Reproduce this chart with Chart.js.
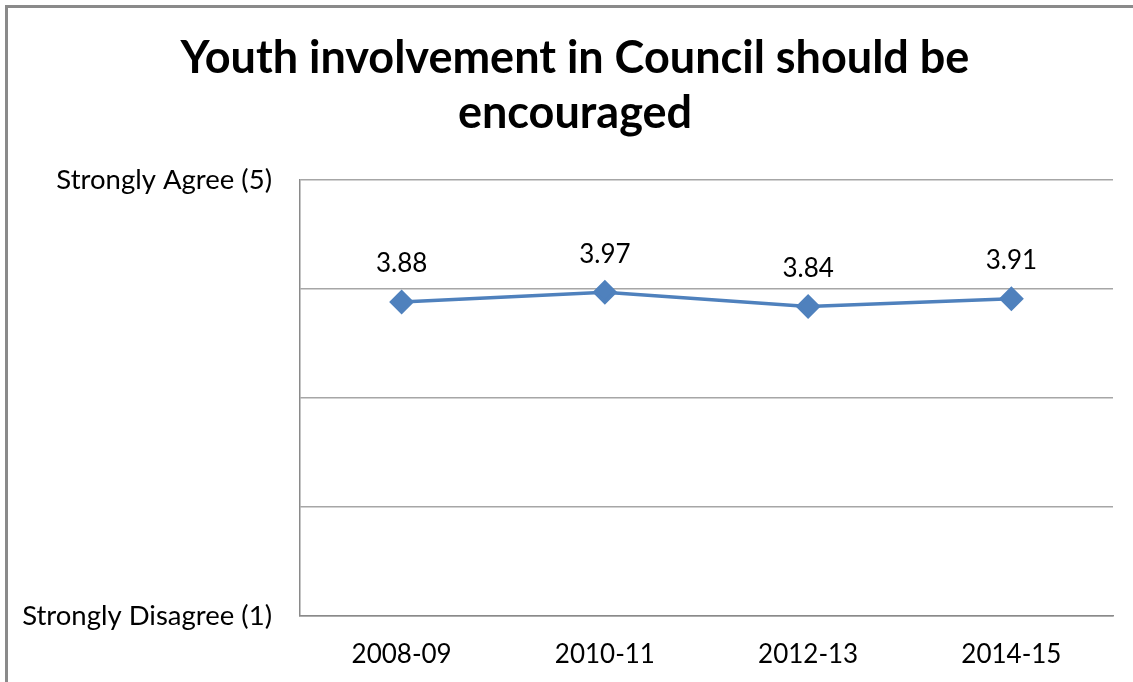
<!DOCTYPE html>
<html>
<head>
<meta charset="utf-8">
<script src="https://cdn.jsdelivr.net/npm/chart.js@4/dist/chart.umd.min.js"></script>
<style>
  html, body { margin: 0; padding: 0; background: #fff; }
  #wrap { position: relative; width: 1133px; height: 682px; overflow: hidden; }
  #frame { position: absolute; left: 5px; top: 5px; width: 1200px; height: 800px;
           border-left: 3px solid #8a8a8a; border-top: 3px solid #8a8a8a; pointer-events: none; }
  canvas { position: absolute; left: 0; top: 0; }
</style>
</head>
<body>
<div id="wrap">
  <canvas id="chart" width="1133" height="682"></canvas>
  <div id="frame"></div>
</div>
<script>
// Survey periods and mean agreement scores (1 = strongly disagree, 5 = strongly agree)
const periods = ['2008-09', '2010-11', '2012-13', '2014-15'];
const scores = [3.88, 3.97, 3.84, 3.91];
const scaleLabels = { 5: 'Strongly Agree (5)', 1: 'Strongly Disagree (1)' };
const titleLines = ['Youth involvement in Council should be', 'encouraged'];

const FONT = 'Lato, "Open Sans", sans-serif';

// Writes each point's value above its marker
const valueLabels = {
  id: 'valueLabels',
  afterDatasetsDraw(chart) {
    const ctx = chart.ctx;
    const meta = chart.getDatasetMeta(0);
    ctx.save();
    ctx.font = '26px ' + FONT;
    ctx.fillStyle = '#000';
    ctx.textAlign = 'center';
    ctx.textBaseline = 'middle';
    meta.data.forEach((pt, i) => {
      ctx.fillText(scores[i].toFixed(2), pt.x, pt.y - 38);
    });
    ctx.restore();
  }
};

// The left padding only serves to centre the title; let the long
// y-axis labels use that margin instead of being clipped by it.
const widenYLabelArea = {
  id: 'widenYLabelArea',
  afterLayout(chart) {
    chart.scales.y.left = 0;
  }
};

new Chart(document.getElementById('chart'), {
  type: 'line',
  data: {
    labels: periods,
    datasets: [{
      data: scores,
      borderColor: '#4F81BD',
      backgroundColor: '#4F81BD',
      borderWidth: 3.5,
      pointStyle: 'rectRot',
      pointRadius: 10,
      pointHoverRadius: 10,
      tension: 0
    }]
  },
  options: {
    responsive: false,
    animation: false,
    layout: { padding: { top: 31, right: 20, bottom: 11, left: 37 } },
    plugins: {
      legend: { display: false },
      tooltip: { enabled: false },
      title: {
        display: true,
        text: titleLines,
        color: '#000',
        font: { family: FONT, size: 45, weight: 'bold', lineHeight: 1.222 },
        padding: { top: 0, bottom: 39 }
      }
    },
    scales: {
      x: {
        offset: true,
        afterFit(scale) { scale.height = 55; },
        grid: { display: false, drawTicks: false, offset: true },
        border: { display: true, color: '#8a8a8a', width: 1.5 },
        ticks: { color: '#000', font: { family: FONT, size: 26 }, padding: 23, maxRotation: 0, autoSkip: false }
      },
      y: {
        min: 1,
        max: 5,
        afterFit(scale) { scale.width = 263; },
        grid: { color: '#a6a6a6', lineWidth: 1.5, drawTicks: false },
        border: { display: true, color: '#8a8a8a', width: 1.5 },
        ticks: {
          stepSize: 1,
          color: '#000',
          padding: 28,
          font: { family: FONT, size: 27.5 },
          callback: v => scaleLabels[v] || ''
        }
      }
    }
  },
  plugins: [valueLabels, widenYLabelArea]
});
</script>
</body>
</html>
